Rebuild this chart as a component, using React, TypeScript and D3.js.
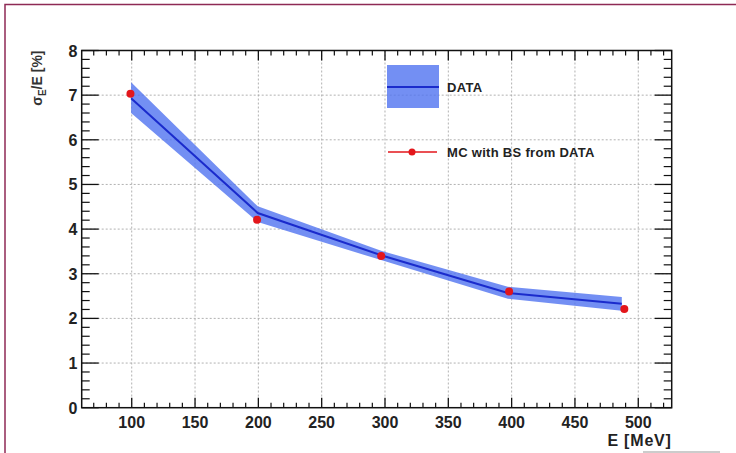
import React from "react";
import * as d3 from "d3";

const dataE = [99.5, 199.5, 297.5, 397, 487];
const dataRes = [6.93, 4.36, 3.41, 2.57, 2.33];
const dataErrLow = [0.33, 0.2, 0.11, 0.13, 0.16];
const dataErrHigh = [0.36, 0.15, 0.1, 0.14, 0.15];

const mcE = [99, 199, 297, 398, 489];
const mcRes = [7.03, 4.21, 3.4, 2.6, 2.21];

const xMajorTicks = [100, 150, 200, 250, 300, 350, 400, 450, 500];
const yMajorTicks = [0, 1, 2, 3, 4, 5, 6, 7, 8];

const W = 736;
const H = 453;
const L = 81.7, R = 671.7, T = 50.5, B = 407.7;

export default function App() {
  const x = d3.scaleLinear().domain([60.5, 526.4]).range([L, R]);
  const y = d3.scaleLinear().domain([0, 8]).range([B, T]);

  const xMinor = d3.range(70, 526, 10).filter((v) => v % 50 !== 0);
  const yMinor = d3.range(0, 8.001, 0.2).map((v) => +v.toFixed(1)).filter((v) => Math.abs(v - Math.round(v)) > 1e-6);

  const bandData = dataE.map((e, i) => ({ e, v: dataRes[i], lo: dataRes[i] - dataErrLow[i], hi: dataRes[i] + dataErrHigh[i] }));
  const area = d3.area<any>().x((d) => x(d.e)).y0((d) => y(d.lo)).y1((d) => y(d.hi));
  const line = d3.line<any>().x((d) => x(d.e)).y((d) => y(d.v));

  const font = "'Liberation Sans', Arial, Helvetica, sans-serif";
  const grid = "#a8a8a8";

  return (
    <svg width={W} height={H} style={{ position: "absolute", left: 0, top: 0, background: "#fff" }} fontFamily={font}>
      <rect x={0} y={0} width={W} height={H} fill="#fff" />
      {/* outer frame */}
      <path d={`M5,${H} L5,4.5 L${W},4.5`} fill="none" stroke="#8e2a55" strokeWidth={1.5} />
      <line x1={643} x2={720} y1={452} y2={452} stroke="#999" strokeWidth={1} />

      {/* grid */}
      {xMajorTicks.map((t) => (
        <line key={"gx" + t} x1={x(t)} x2={x(t)} y1={T} y2={B} stroke={grid} strokeWidth={0.9} strokeDasharray="2,2" />
      ))}
      {yMajorTicks.slice(1, -1).map((t) => (
        <line key={"gy" + t} x1={L} x2={R} y1={y(t)} y2={y(t)} stroke={grid} strokeWidth={0.9} strokeDasharray="2,2" />
      ))}

      {/* data band */}
      <path d={area(bandData) || ""} fill="rgb(80,115,240)" fillOpacity={0.8} />
      <path d={line(bandData) || ""} fill="none" stroke="#1a2bcc" strokeWidth={2} />

      {/* MC points */}
      {mcE.map((e, i) => (
        <circle key={"mc" + i} cx={x(e)} cy={y(mcRes[i])} r={4} fill="#e3161b" />
      ))}

      {/* axes frame */}
      <rect x={L} y={T} width={R - L} height={B - T} fill="none" stroke="#111" strokeWidth={1.5} />

      {/* x ticks */}
      {xMajorTicks.map((t) => (
        <g key={"xt" + t}>
          <line x1={x(t)} x2={x(t)} y1={B} y2={B - 10} stroke="#111" strokeWidth={1.3} />
          <line x1={x(t)} x2={x(t)} y1={T} y2={T + 10} stroke="#111" strokeWidth={1.3} />
          <text x={x(t)} y={427.5} textAnchor="middle" fontSize={16} fontWeight="bold" fill="#222">{t}</text>
        </g>
      ))}
      {xMinor.map((t) => (
        <g key={"xm" + t}>
          <line x1={x(t)} x2={x(t)} y1={B} y2={B - 5} stroke="#111" strokeWidth={1.2} />
          <line x1={x(t)} x2={x(t)} y1={T} y2={T + 5} stroke="#111" strokeWidth={1.2} />
        </g>
      ))}

      {/* y ticks */}
      {yMajorTicks.map((t) => (
        <g key={"yt" + t}>
          <line x1={L} x2={L + 17} y1={y(t)} y2={y(t)} stroke="#111" strokeWidth={1.3} />
          <line x1={R} x2={R - 17} y1={y(t)} y2={y(t)} stroke="#111" strokeWidth={1.3} />
          <text x={77.5} y={y(t) + 6} textAnchor="end" fontSize={16} fontWeight="bold" fill="#222">{t}</text>
        </g>
      ))}
      {yMinor.map((t) => (
        <g key={"ym" + t}>
          <line x1={L} x2={L + 8} y1={y(t)} y2={y(t)} stroke="#111" strokeWidth={1.2} />
          <line x1={R} x2={R - 8} y1={y(t)} y2={y(t)} stroke="#111" strokeWidth={1.2} />
        </g>
      ))}

      {/* axis titles */}
      <text x={R} y={445.5} textAnchor="end" fontSize={16} fontWeight="bold" letterSpacing={0.8} fill="#222">E [MeV]</text>
      <text transform={`translate(42,${T}) rotate(-90)`} textAnchor="end" fontSize={14} fontWeight="bold" fill="#333">
        σ<tspan fontSize={10} dy={4}>E</tspan><tspan dy={-4}>/E [%]</tspan>
      </text>

      {/* legend */}
      <rect x={387} y={65} width={52} height={43} fill="rgb(80,115,240)" fillOpacity={0.8} />
      <line x1={387} x2={439} y1={87} y2={87} stroke="#1a2bcc" strokeWidth={2} />
      <text x={447} y={92} fontSize={13} fontWeight="bold" letterSpacing={0.3} fill="#222">DATA</text>
      <line x1={388} x2={437} y1={152} y2={152} stroke="#e3161b" strokeWidth={1.5} />
      <circle cx={412} cy={152} r={3.5} fill="#e3161b" />
      <text x={447} y={156.5} fontSize={13} fontWeight="bold" letterSpacing={0.3} fill="#222">MC with BS from DATA</text>
    </svg>
  );
}
